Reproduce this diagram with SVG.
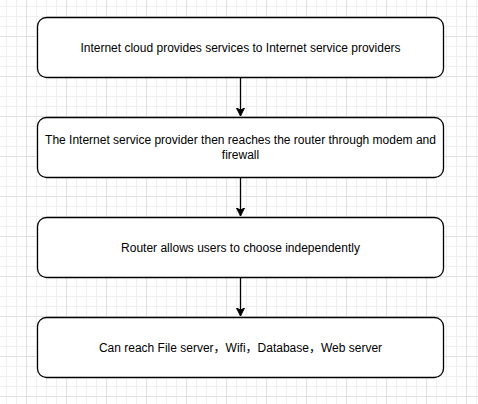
<svg xmlns="http://www.w3.org/2000/svg" width="478" height="404" viewBox="0 0 478 404">
<style>
.box{fill:#ffffff;stroke:#000000;stroke-width:1.3}
.lbl{font-family:"Liberation Sans","Noto Sans CJK SC",Arial,sans-serif;font-size:12px;fill:#000000;text-anchor:middle}
.edge{stroke:#000000;stroke-width:1.3;fill:none}
</style>
<defs>
<pattern id="minor" patternUnits="userSpaceOnUse" x="6" y="6" width="10" height="10">
<path d="M0.5 0V10M0 0.5H10" stroke="#efefef" stroke-width="1" fill="none"/>
</pattern>
<pattern id="major" patternUnits="userSpaceOnUse" x="26" y="36" width="40" height="40">
<path d="M0.5 0V40M0 0.5H40" stroke="#e0e0e0" stroke-width="1" fill="none"/>
</pattern>
<marker id="arr" markerWidth="10" markerHeight="10" refX="8" refY="4" orient="auto" markerUnits="userSpaceOnUse">
<path d="M0 0L8 4L0 8L2 4Z" fill="#000000" stroke="#000000" stroke-width="1"/>
</marker>
</defs>
<rect width="478" height="404" fill="#ffffff"/>
<rect width="478" height="404" fill="url(#minor)"/>
<rect width="478" height="404" fill="url(#major)"/>
<g id="connectors">
<path class="edge" d="M240.5 77.5V116" marker-end="url(#arr)"/>
<path class="edge" d="M240.5 177.5V216" marker-end="url(#arr)"/>
<path class="edge" d="M240.5 277.5V316" marker-end="url(#arr)"/>
</g>
<g id="node1">
<rect class="box" x="37.5" y="17.5" width="406" height="60" rx="9" ry="9"/>
<text class="lbl" x="240.5" y="51.5">Internet cloud provides services to Internet service providers</text>
</g>
<g id="node2">
<rect class="box" x="37.5" y="117.5" width="406" height="60" rx="9" ry="9"/>
<text class="lbl" x="240.5" y="144">The Internet service provider then reaches the router through modem and</text>
<text class="lbl" x="240.5" y="159">firewall</text>
</g>
<g id="node3">
<rect class="box" x="37.5" y="217.5" width="406" height="60" rx="9" ry="9"/>
<text class="lbl" x="240.5" y="251.5">Router allows users to choose independently</text>
</g>
<g id="node4">
<rect class="box" x="37.5" y="317.5" width="406" height="60" rx="9" ry="9"/>
<text class="lbl" x="240.5" y="351.5">Can reach File server，Wifi，Database，Web server</text>
</g>
</svg>
